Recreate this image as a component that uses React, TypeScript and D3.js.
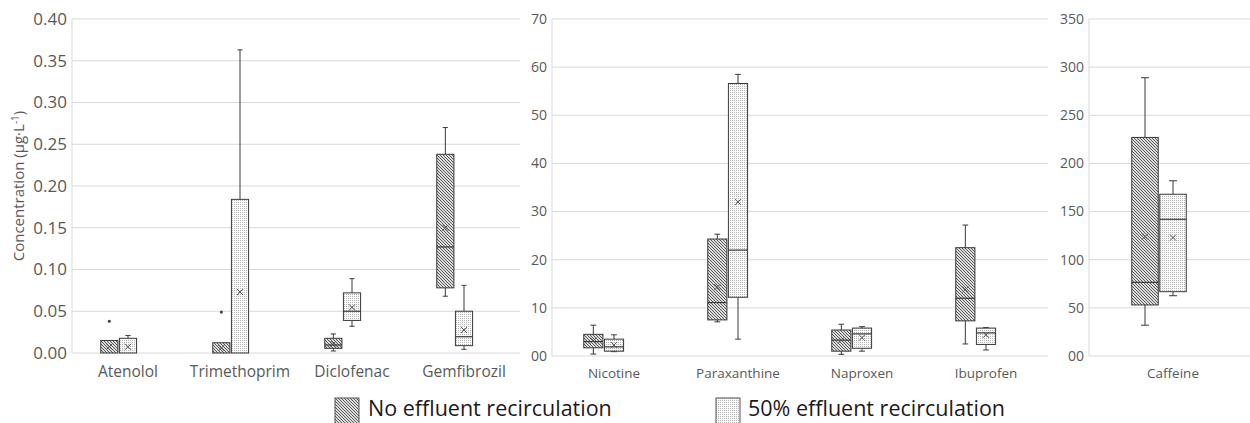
import * as d3 from "d3";

// stats tuples: [min, q1, median, q3, max, mean]
type Stat = [number, number, number, number, number, number];

const seriesNames = ["No effluent recirculation", "50% effluent recirculation"];

const catsA = ["Atenolol", "Trimethoprim", "Diclofenac", "Gemfibrozil"];
const noRecircA: Stat[] = [
  [0, 0, 0, 0.015, 0.015, 0.0075],
  [0, 0, 0, 0.0123, 0.0123, 0.006],
  [0.0024, 0.0056, 0.0096, 0.0176, 0.0228, 0.011],
  [0.068, 0.078, 0.127, 0.238, 0.27, 0.15],
];
const halfRecircA: Stat[] = [
  [0, 0, 0, 0.0176, 0.021, 0.0075],
  [0, 0, 0, 0.184, 0.363, 0.073],
  [0.032, 0.039, 0.05, 0.072, 0.089, 0.0547],
  [0.0044, 0.0088, 0.0195, 0.05, 0.081, 0.0275],
];
const outliersNoA = [[0.038], [0.049], [], []];
const ticksA = [0, 0.05, 0.1, 0.15, 0.2, 0.25, 0.3, 0.35, 0.4];

const catsB = ["Nicotine", "Paraxanthine", "Naproxen", "Ibuprofen"];
const noRecircB: Stat[] = [
  [0.4, 1.7, 3.0, 4.5, 6.4, 3.2],
  [7.1, 7.5, 11.1, 24.3, 25.3, 14.3],
  [0.35, 1.0, 3.3, 5.4, 6.6, 3.3],
  [2.5, 7.3, 12.0, 22.5, 27.2, 13.8],
];
const halfRecircB: Stat[] = [
  [0.9, 1.0, 1.9, 3.5, 4.4, 2.3],
  [3.5, 12.2, 22.0, 56.6, 58.5, 32.0],
  [1.0, 1.6, 4.6, 5.8, 6.1, 3.8],
  [1.25, 2.4, 4.8, 5.8, 5.9, 4.4],
];
const ticksB = [0, 10, 20, 30, 40, 50, 60, 70];

const catsC = ["Caffeine"];
const noRecircC: Stat[] = [[32, 53, 76.5, 227, 289, 124]];
const halfRecircC: Stat[] = [[62.6, 66.8, 142, 168, 182, 123]];
const ticksC = [0, 50, 100, 150, 200, 250, 300, 350];

const FONT = "'Open Sans', 'DejaVu Sans', sans-serif";
const GRID = "#d9d9d9";
const TXT = "#595959";
const STROKE = "#3a3a3a";

const zeroPad = (d: number) => (d === 0 ? "00" : String(d));

interface PanelProps {
  x0: number;
  x1: number;
  yTop: number;
  yBot: number;
  max: number;
  ticks: number[];
  fmt: (d: number) => string;
  cats: string[];
  a: Stat[];
  b: Stat[];
  outA?: number[][];
  tickFont: number;
  catFont: number;
  catY: number;
}

function BoxPanel(p: PanelProps) {
  const y = d3.scaleLinear().domain([0, p.max]).range([p.yBot, p.yTop]);
  const x = d3.scaleBand<string>().domain(p.cats).range([p.x0, p.x1]);
  const bw = x.bandwidth();

  const drawBox = (s: Stat, cx: number, slot: number, fill: string, key: string, outs: number[]) => {
    const [mn, q1, med, q3, mx, mean] = s;
    const w = slot - 1.5;
    const left = cx - w / 2;
    const cap = w * 0.3;
    const m = 3;
    return (
      <g key={key}>
        {mx > q3 && (
          <>
            <line x1={cx} x2={cx} y1={y(q3)} y2={y(mx)} stroke={STROKE} />
            <line x1={cx - cap / 2} x2={cx + cap / 2} y1={y(mx)} y2={y(mx)} stroke={STROKE} />
          </>
        )}
        {mn < q1 && (
          <>
            <line x1={cx} x2={cx} y1={y(q1)} y2={y(mn)} stroke={STROKE} />
            <line x1={cx - cap / 2} x2={cx + cap / 2} y1={y(mn)} y2={y(mn)} stroke={STROKE} />
          </>
        )}
        <rect x={left} y={y(q3)} width={w} height={Math.max(0, y(q1) - y(q3))} fill={fill} stroke={STROKE} />
        {med > q1 && <line x1={left} x2={left + w} y1={y(med)} y2={y(med)} stroke={STROKE} strokeWidth={1.2} />}
        <g stroke="#555" strokeWidth={1}>
          <line x1={cx - m} x2={cx + m} y1={y(mean) - m} y2={y(mean) + m} />
          <line x1={cx - m} x2={cx + m} y1={y(mean) + m} y2={y(mean) - m} />
        </g>
        {outs.map((o, i) => (
          <circle key={i} cx={cx} cy={y(o)} r={1.6} fill="#444" />
        ))}
      </g>
    );
  };

  return (
    <g fontFamily={FONT}>
      {p.ticks.map((t) => (
        <g key={t}>
          <line x1={p.x0} x2={Math.min(p.x1, 1250)} y1={y(t)} y2={y(t)} stroke={GRID} />
          <text x={p.x0 - 5} y={y(t)} dy="0.35em" textAnchor="end" fontSize={p.tickFont} fill={TXT}>
            {p.fmt(t)}
          </text>
        </g>
      ))}
      <line x1={p.x0} x2={p.x0} y1={p.yTop} y2={p.yBot} stroke={GRID} />
      {p.cats.map((c, i) => {
        const center = (x(c) || 0) + bw / 2;
        const sub = d3
          .scaleBand<number>()
          .domain([0, 1, 2])
          .range([center - bw * 0.25, center + bw * 0.25]);
        const slot = sub.bandwidth();
        return (
          <g key={c}>
            {drawBox(p.a[i], (sub(0) || 0) + slot / 2, slot, "url(#hatch)", "a", p.outA ? p.outA[i] : [])}
            {drawBox(p.b[i], (sub(1) || 0) + slot / 2, slot, "url(#dots)", "b", [])}
            <text x={center} y={p.catY} textAnchor="middle" fontSize={p.catFont} fill={TXT}>
              {c}
            </text>
          </g>
        );
      })}
    </g>
  );
}

export default function App() {
  return (
    <svg width={1250} height={423} style={{ display: "block", position: "absolute", left: 0, top: 0 }}>
      <defs>
        <pattern id="hatch" width={3} height={3} patternUnits="userSpaceOnUse">
          <rect width={3} height={3} fill="#dcdcdc" />
          <path d="M-1,-1 L4,4 M-1,2 L1,4 M2,-1 L4,1" stroke="#4d4d4d" strokeWidth={0.9} />
        </pattern>
        <pattern id="dots" width={2} height={2} patternUnits="userSpaceOnUse">
          <rect width={2} height={2} fill="#fbfbfb" />
          <rect x={0} y={0} width={1} height={1} fill="#b5b5b5" />
        </pattern>
      </defs>
      <rect width={1250} height={423} fill="#fff" />

      <BoxPanel
        x0={72} x1={520} yTop={19} yBot={353} max={0.4} ticks={ticksA}
        fmt={d3.format(".2f")} cats={catsA} a={noRecircA} b={halfRecircA} outA={outliersNoA}
        tickFont={17} catFont={15.5} catY={377}
      />
      <BoxPanel
        x0={552} x1={1048} yTop={19} yBot={356} max={70} ticks={ticksB}
        fmt={zeroPad} cats={catsB} a={noRecircB} b={halfRecircB}
        tickFont={14} catFont={13.5} catY={378}
      />
      <BoxPanel
        x0={1089} x1={1257} yTop={19} yBot={356} max={350} ticks={ticksC}
        fmt={zeroPad} cats={catsC} a={noRecircC} b={halfRecircC}
        tickFont={14} catFont={13.5} catY={378}
      />

      <text
        transform="translate(24,186) rotate(-90)"
        textAnchor="middle"
        fontFamily={FONT}
        fontSize={15}
        fill={TXT}
      >
        Concentration (µg·L
        <tspan dy={-5} fontSize={10}>-1</tspan>
        <tspan dy={5}>)</tspan>
      </text>

      <g fontFamily={FONT} fontSize={21.5} fill="#1a1a1a">
        <rect x={335} y={398} width={24} height={26} fill="url(#hatch)" stroke="#555" />
        <text x={368} y={416}>{seriesNames[0]}</text>
        <rect x={716} y={398} width={24} height={26} fill="url(#dots)" stroke="#555" />
        <text x={748} y={416}>{seriesNames[1]}</text>
      </g>
    </svg>
  );
}
